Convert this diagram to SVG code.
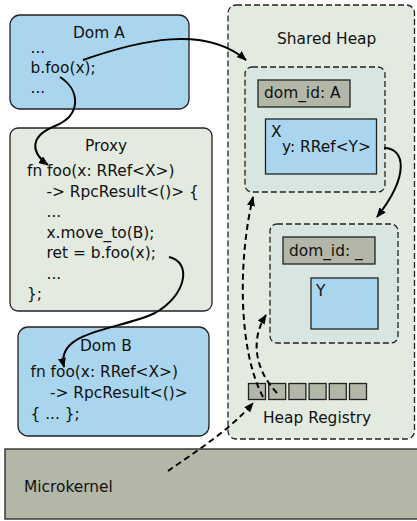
<svg xmlns="http://www.w3.org/2000/svg" width="417" height="521" viewBox="0 0 417 521">
<style>
text{font-family:"DejaVu Sans","Liberation Sans",sans-serif;font-size:15.4px;fill:#111}
.blue{fill:#a9d6ee;stroke:#222;stroke-width:1.3}
.green{fill:#e3ebe0;stroke:#222;stroke-width:1.3}
.inner{fill:#d8e5e1;stroke:#222;stroke-width:1.3;stroke-dasharray:6,3}
.grey{fill:#b2b7a8;stroke:#222;stroke-width:1.3}
.con{fill:none;stroke:#000;stroke-width:2}
.dash{stroke-dasharray:6,4}
</style>
<defs>
<marker id="ah" viewBox="0 0 10 8" refX="9" refY="4" markerWidth="10" markerHeight="8" markerUnits="userSpaceOnUse" orient="auto">
<path d="M0,0 L10,4 L0,8 z" fill="#000"/>
</marker>
</defs>
<g id="microkernel">
<rect x="5" y="449" width="420" height="70" class="grey"/>
<text x="24" y="492">Microkernel</text>
</g>
<g id="shared-heap">
<rect x="228" y="5" width="186.5" height="434" rx="8" class="green" style="stroke-dasharray:6,3"/>
<text x="277" y="44">Shared Heap</text>
</g>
<g id="heap-obj-a">
<rect x="245" y="67" width="140" height="125" rx="7" class="inner"/>
<rect x="258" y="80" width="92" height="27" class="grey"/>
<text x="264" y="98">dom_id: A</text>
</g>
<g id="x-obj">
<rect x="265.5" y="119" width="111" height="55" class="blue"/>
<text x="271" y="137">X</text>
<text x="282" y="152">y: RRef&lt;Y&gt;</text>
</g>
<g id="heap-obj-b">
<rect x="270" y="224" width="128" height="119" rx="7" class="inner"/>
<rect x="283" y="237" width="92" height="27" class="grey"/>
<text x="289" y="256">dom_id: _</text>
</g>
<g id="y-obj">
<rect x="311" y="278" width="67" height="51" class="blue"/>
<text x="316" y="296">Y</text>
</g>
<g id="heap-registry">
<rect x="248.5" y="383.5" width="17" height="16" class="grey"/>
<rect x="268.7" y="383.5" width="17" height="16" class="grey"/>
<rect x="288.9" y="383.5" width="17" height="16" class="grey"/>
<rect x="309.1" y="383.5" width="17" height="16" class="grey"/>
<rect x="329.3" y="383.5" width="17" height="16" class="grey"/>
<rect x="349.5" y="383.5" width="17" height="16" class="grey"/>
<text x="263" y="423">Heap Registry</text>
</g>
<g id="dom-a">
<rect x="10" y="15" width="179" height="94" rx="10" class="blue"/>
<text x="73" y="38">Dom A</text>
<text x="30.5" y="53">...</text>
<text x="30.5" y="73">b.foo(x);</text>
<text x="30.5" y="93">...</text>
</g>
<g id="proxy">
<rect x="10" y="128" width="202" height="183" rx="8" class="green"/>
<text x="85" y="151">Proxy</text>
<text x="27" y="176">fn foo(x: RRef&lt;X&gt;)</text>
<text x="46.5" y="196.5">-&gt; RpcResult&lt;()&gt; {</text>
<text x="46.5" y="217">...</text>
<text x="46.5" y="237.5">x.move_to(B);</text>
<text x="46.5" y="258">ret = b.foo(x);</text>
<text x="46.5" y="278.5">...</text>
<text x="27" y="299">};</text>
</g>
<g id="dom-b">
<rect x="18" y="327" width="191" height="109" rx="10" class="blue"/>
<text x="80" y="351">Dom B</text>
<text x="30.5" y="377">fn foo(x: RRef&lt;X&gt;)</text>
<text x="50" y="398">-&gt; RpcResult&lt;()&gt;</text>
<text x="30.5" y="419">{ ... };</text>
</g>
<g id="connectors">
<path class="con" d="M83,60 C140,40 205,25 246,60" marker-end="url(#ah)"/>
<path class="con" d="M60,77 C80,90 82,115 55,126 C30,136 30,152 48,165" marker-end="url(#ah)"/>
<path class="con" d="M169,257 C192,262 187,295 155,313 C120,330 55,330 64,367" marker-end="url(#ah)"/>
<path class="con" d="M384,148 C405,148 410,175 377,217" marker-end="url(#ah)"/>
<path class="con dash" d="M263,397 C238,350 238,260 253,197" marker-end="url(#ah)"/>
<path class="con dash" d="M277,393 C255,370 250,340 266,315" marker-end="url(#ah)"/>
<path class="con dash" d="M168,471 C195,452 230,430 253,403" marker-end="url(#ah)"/>
</g>
</svg>
